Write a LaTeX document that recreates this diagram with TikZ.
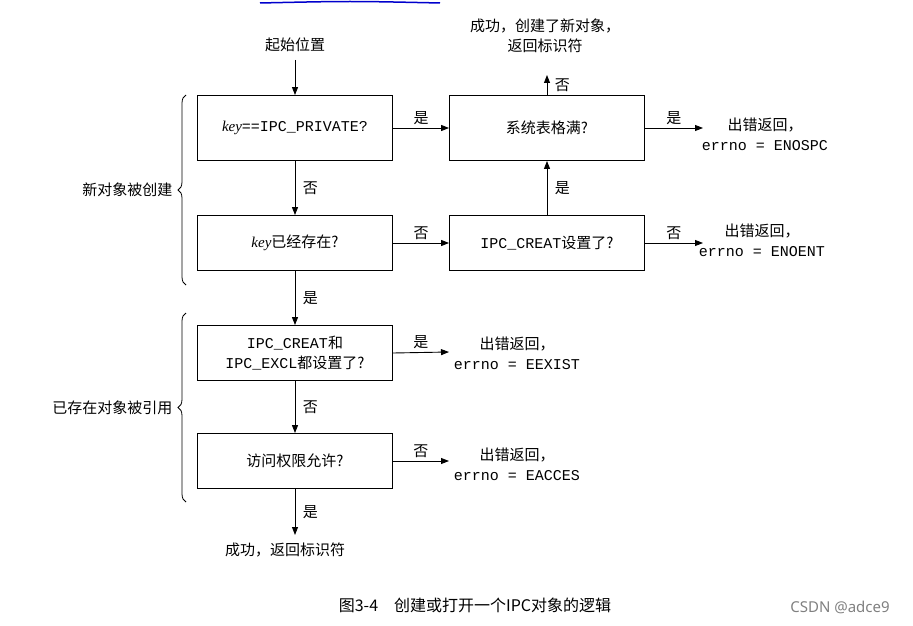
\documentclass[tikz,border=0pt]{standalone}
\usepackage{fontspec}
\setmainfont{Liberation Serif}
\newfontfamily\cjk{Noto Sans CJK SC}
\newfontfamily\mono{Liberation Mono}
\newcommand{\kw}{{\fontspec{Liberation Serif}\itshape key}}
\usetikzlibrary{arrows.meta,decorations.pathreplacing}
\begin{document}
\begin{tikzpicture}[x=1pt,y=-1pt,
  box/.style={draw,line width=0.9pt,minimum width=195pt,minimum height=55pt,align=center,font=\cjk\fontsize{15}{20}\selectfont},
  arr/.style={line width=0.9pt,-{Triangle[length=8pt,width=6pt]}},
  lab/.style={font=\cjk\fontsize{15}{20}\selectfont,align=center},
  t/.style={font=\mono\fontsize{14}{18}\selectfont}]
\useasboundingbox (0,0) rectangle (913,626);
\draw[blue!80!black,line width=1.5pt] (260,3) .. controls (350,1) .. (440,3);
\node[lab] (start) at (295,45) {起始位置};
\node[box,minimum height=65pt] (b1) at (295,128) {\kw{\mono ==IPC\_PRIVATE?}};
\node[box,minimum height=65pt] (b2) at (547,128) {系统表格满?};
\node[box] (b3) at (295,243) {\kw 已经存在?};
\node[box] (b4) at (547,243) {{\mono IPC\_CREAT}设置了?};
\node[box] (b5) at (295,353) {{\mono IPC\_CREAT}和\\{\mono IPC\_EXCL}都设置了?};
\node[box] (b6) at (295,461) {访问权限允许?};
\node[lab] (ok1) at (545,36) {成功，创建了新对象，\\返回标识符};
\node[lab] (ok2) at (285,550) {成功，返回标识符};
\node[lab] (e1) at (765,134) {出错返回，\\{\mono errno = ENOSPC}};
\node[lab] (e2) at (762,240) {出错返回，\\{\mono errno = ENOENT}};
\node[lab] (e3) at (517,353) {出错返回，\\{\mono errno = EEXIST}};
\node[lab] (e4) at (517,464) {出错返回，\\{\mono errno = EACCES}};
\coordinate (c0) at (295,60);
\coordinate (c1) at (295,535);
\coordinate (c2) at (547,75);
\coordinate (c3) at (703,128);
\coordinate (c4) at (703,243);
\coordinate (c5) at (449,352);
\coordinate (c6) at (449,461);
\draw[arr] (c0) -- (b1);
\draw[arr] (b1) -- node[lab,right,xshift=4pt]{否} (b3);
\draw[arr] (b3) -- node[lab,right,xshift=4pt]{是} (b5);
\draw[arr] (b5) -- node[lab,right,xshift=4pt]{否} (b6);
\draw[arr] (b6) -- node[lab,right,xshift=4pt]{是} (c1);
\draw[arr] (b1) -- node[lab,above]{是} (b2);
\draw[arr] (b3) -- node[lab,above]{否} (b4);
\draw[arr] (b4) -- node[lab,right,xshift=4pt]{是} (b2);
\draw[arr] (b2) -- node[lab,right,xshift=4pt]{否} (c2);
\draw[arr] (b2) -- node[lab,above]{是} (c3);
\draw[arr] (b4) -- node[lab,above]{否} (c4);
\draw[arr] (b5.east) -- node[lab,above]{是} (c5);
\draw[arr] (b6) -- node[lab,above]{否} (c6);
\draw[line width=0.8pt,decorate,decoration={brace,amplitude=8pt}] (186,285) -- (186,95) node[midway,left,xshift=-10pt,lab]{新对象被创建};
\draw[line width=0.8pt,decorate,decoration={brace,amplitude=8pt}] (186,502) -- (186,313) node[midway,left,xshift=-10pt,lab]{已存在对象被引用};
\node[font=\cjk\fontsize{16}{18}\selectfont] (cap) at (475,605) {图3-4\quad 创建或打开一个IPC对象的逻辑};
\node[font=\fontspec{Noto Sans}\fontsize{15}{18}\selectfont,gray] (wm) at (840,607) {CSDN @adce9};
\end{tikzpicture}
\end{document}
